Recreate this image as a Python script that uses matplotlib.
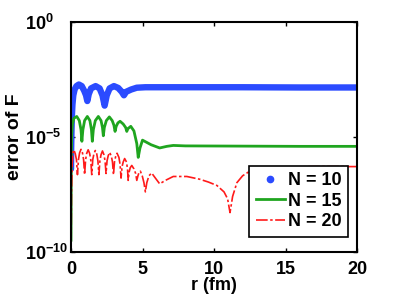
import numpy as np
import matplotlib
matplotlib.use("Agg")
import matplotlib.pyplot as plt
from matplotlib.lines import Line2D

plt.rcParams['font.family'] = ['Liberation Sans', 'DejaVu Sans']
plt.rcParams['font.weight'] = 'bold'
plt.rcParams['mathtext.fontset'] = 'custom'
plt.rcParams['mathtext.rm'] = 'Liberation Sans'
plt.rcParams['mathtext.bf'] = 'Liberation Sans:bold'

# error curves, stored as log10(error)
r10 = [0, 0.01, 0.03, 0.06, 0.1, 0.16, 0.25, 0.38, 0.55, 0.75, 0.92, 1.05, 1.14,
       1.24, 1.4, 1.72, 2.0, 2.2, 2.35, 2.5, 2.7, 3.0, 3.3, 3.55, 3.7, 3.85,
       4.2, 4.6, 5.2, 6, 8, 12, 16, 20]
e10 = [-6.4, -5.5, -4.8, -4.1, -3.6, -3.2, -2.95, -2.8, -2.73, -2.8, -3.0, -3.2, -3.45,
       -3.15, -2.9, -2.8, -2.9, -3.2, -3.65, -3.2, -2.9, -2.8, -2.88, -3.05, -3.2, -3.05,
       -2.95, -2.87, -2.85, -2.85, -2.85, -2.85, -2.86, -2.86]

r15 = [0, 0.02, 0.05, 0.1, 0.2, 0.4, 0.58, 0.7, 0.76, 0.83, 0.95, 1.14, 1.32, 1.43,
       1.49, 1.56, 1.7, 1.91, 2.1, 2.2, 2.26, 2.33, 2.47, 2.68, 2.88, 3.0, 3.08, 3.16,
       3.28, 3.43, 3.65, 3.82, 3.9, 3.98, 4.18, 4.4, 4.6, 4.7, 4.82, 5.0, 5.3, 5.6,
       6.2, 6.7, 7.15, 8, 12, 16, 20]
e15 = [-9.5, -6.0, -4.9, -4.45, -4.2, -4.12, -4.3, -4.7, -5.2, -4.7, -4.3, -4.12, -4.3, -4.7,
       -5.2, -4.7, -4.3, -4.12, -4.3, -4.6, -4.96, -4.6, -4.3, -4.14, -4.3, -4.5, -4.77, -4.55,
       -4.4, -4.33, -4.45, -4.6, -4.77, -4.65, -4.55, -4.75, -5.3, -5.9, -5.5, -5.15, -5.25, -5.35,
       -5.49, -5.42, -5.38, -5.4, -5.41, -5.42, -5.42]

r20 = [0, 0.03, 0.08, 0.13, 0.2, 0.3, 0.38, 0.45, 0.52, 0.6, 0.7, 0.8, 0.88, 0.95,
       1.02, 1.1, 1.2, 1.3, 1.38, 1.45, 1.52, 1.6, 1.7, 1.8, 1.88, 1.95, 2.02, 2.1,
       2.2, 2.3, 2.38, 2.45, 2.52, 2.6, 2.7, 2.82, 2.9, 2.97, 3.04, 3.12, 3.22, 3.35,
       3.43, 3.5, 3.57, 3.65, 3.75, 3.88, 3.95, 4.0, 4.06, 4.14, 4.25, 4.4, 4.52, 4.6,
       4.68, 4.76, 4.85, 4.98, 5.1, 5.2, 5.3, 5.45, 5.64, 5.9, 6.2, 6.6, 7.15, 8.1,
       9.0, 9.6, 10.2, 10.7, 10.95, 11.12, 11.3, 11.6, 12.0, 12.5, 13.2, 14.5, 17, 20]
e20 = [-10.5, -7.5, -6.2, -5.7, -5.57, -5.75, -6.0, -6.65, -6.0, -5.7, -5.55, -5.7, -6.0, -6.65,
       -6.0, -5.72, -5.57, -5.72, -6.0, -6.65, -6.0, -5.75, -5.6, -5.75, -6.05, -6.65, -6.05, -5.78,
       -5.62, -5.78, -6.05, -6.6, -6.05, -5.83, -5.68, -5.85, -6.1, -6.65, -6.1, -5.87, -5.72, -5.9,
       -6.2, -6.8, -6.3, -6.1, -5.95, -6.1, -6.4, -6.9, -6.55, -6.35, -6.25, -6.4, -6.6, -6.9,
       -6.7, -6.55, -6.5, -6.7, -7.0, -7.4, -7.0, -6.7, -6.58, -6.8, -7.05, -6.9, -6.73, -6.73,
       -6.85, -6.97, -7.12, -7.4, -7.7, -8.3, -7.6, -7.0, -6.7, -6.5, -6.4, -6.33, -6.3, -6.3]

labels = ['N = 10', 'N = 15', 'N = 20']
xticks = [0, 5, 10, 15, 20]
yticks = [1e-10, 1e-5, 1e0]
ytick_labels = [r'$\mathbf{10^{-10}}$', r'$\mathbf{10^{-5}}$', r'$\mathbf{10^{0}}$']

blue = '#2b4bff'
green = '#1fa51f'
red = '#ff1a1a'
red_dash = (7, 1.5, 1.5, 1.5)

fig = plt.figure(figsize=(3.93, 2.96), dpi=100)
ax = fig.add_axes([0.1807, 0.1497, 0.7277, 0.777])

ax.plot(r10, 10 ** np.array(e10), color=blue, lw=4.6, solid_capstyle='round',
        solid_joinstyle='round')
ax.plot(r15, 10 ** np.array(e15), color=green, lw=2.0)
ax.plot(r20, 10 ** np.array(e20), color=red, lw=1.2, dashes=red_dash)

ax.set_yscale('log')
ax.set_xlim(0, 20)
ax.set_ylim(1e-10, 1e0)
ax.set_xticks(xticks)
ax.set_xticklabels([str(t) for t in xticks])
ax.set_yticks(yticks)
ax.set_yticklabels(ytick_labels)
ax.minorticks_off()
ax.tick_params(direction='in', top=True, right=True, length=3, width=1,
               labelsize=13)
ax.tick_params(axis='x', pad=6.5)
ax.tick_params(axis='y', pad=33)
# y labels left-aligned as in the reference
for lab in ax.get_yticklabels():
    lab.set_horizontalalignment('left')
for s in ax.spines.values():
    s.set_linewidth(1.5)

ax.set_xlabel('r (fm)', fontsize=13, fontweight='bold', va='top')
ax.xaxis.set_label_coords(0.5, -0.11)
ax.set_ylabel('error of F', fontsize=14, fontweight='bold')
ax.yaxis.set_label_coords(-0.168, 0.5)

handles = [Line2D([], [], color=blue, marker='.', ls='none', markersize=9),
           Line2D([], [], color=green, lw=2.0),
           Line2D([], [], color=red, lw=1.2, dashes=red_dash)]
leg = ax.legend(handles, labels, loc='lower right', bbox_to_anchor=(0.9685, 0.065),
                borderaxespad=0, fancybox=False, framealpha=1, edgecolor='black',
                prop={'size': 13, 'weight': 'bold'}, handlelength=1.65,
                handletextpad=0.15, labelspacing=0.2, borderpad=0.35)
leg.get_frame().set_linewidth(1.2)

fig.savefig('out.png', dpi=100)
